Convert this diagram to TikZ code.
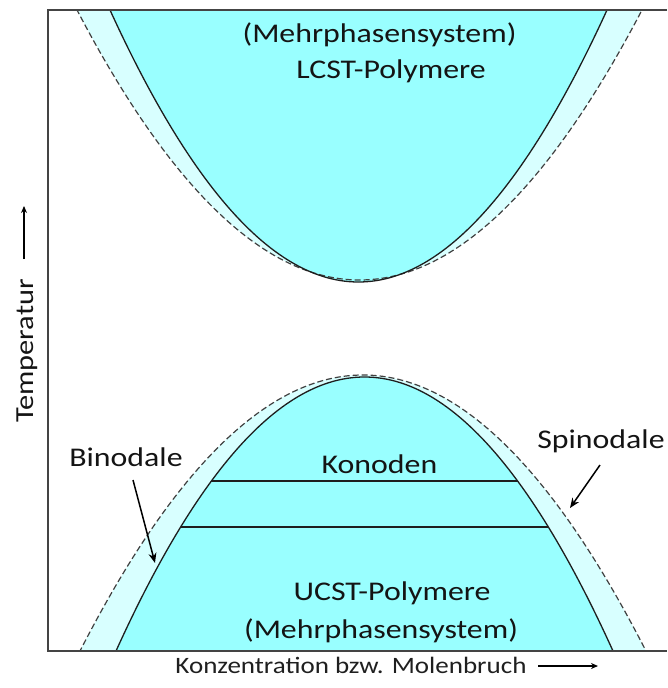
\documentclass[tikz,border=0pt]{standalone}
\usepackage{fontspec}
\setmainfont{Carlito}
\usetikzlibrary{arrows.meta}
\definecolor{cyanfill}{HTML}{99FFFF}
\definecolor{lightfill}{HTML}{D8FFFF}
\definecolor{linecol}{HTML}{1E1E1E}
\definecolor{dashcol}{HTML}{404040}
\definecolor{framecol}{HTML}{444444}
\newcommand{\wide}[2]{\scalebox{#1}[1]{#2}}
\begin{document}
\begin{tikzpicture}[x=1pt,y=-1pt,
  lbl/.style={inner sep=0pt, anchor=base, font=\fontsize{27}{30}\selectfont, text=black!92},
  axl/.style={inner sep=0pt, anchor=base, font=\fontsize{23.5}{26}\selectfont, text=black!88},
  solidc/.style={draw=linecol, line width=1.3pt},
  dashc/.style={draw=dashcol, line width=1.2pt, dash pattern=on 6pt off 3pt},
  tie/.style={draw=linecol, line width=2.2pt},
  arr/.style={draw=black, line width=1.5pt, -{Stealth[length=10pt,width=8pt]}},
  axarr/.style={draw=black, line width=1.4pt, -{Stealth[length=7pt,width=6pt]}}
]
\useasboundingbox (0,0) rectangle (667,688);
\begin{scope}
  \clip (48,10) rectangle (667,651);
  % upper (LCST) region
  \fill[lightfill] plot[domain=-1.06:1.06, samples=121] ({359.5+282.5*\x},{280-270*\x*\x}) -- cycle;
  \fill[cyanfill] plot[domain=-1.06:1.06, samples=121] ({358.5+248.5*\x},{282-272*\x*\x}) -- cycle;
  \draw[dashc] plot[domain=-1.06:1.06, samples=121] ({359.5+282.5*\x},{280-270*\x*\x});
  \draw[solidc] plot[domain=-1.06:1.06, samples=121] ({358.5+248.5*\x},{282-272*\x*\x});
  % lower (UCST) region
  \fill[lightfill] plot[domain=-1.06:1.06, samples=121] ({363+283*\x},{375+276*\x*\x}) -- cycle;
  \fill[cyanfill] plot[domain=-1.06:1.06, samples=121] ({364.5+248.5*\x},{377+274*\x*\x}) -- cycle;
  \draw[dashc] plot[domain=-1.06:1.06, samples=121] ({363+283*\x},{375+276*\x*\x});
  \draw[solidc] plot[domain=-1.06:1.06, samples=121] ({364.5+248.5*\x},{377+274*\x*\x});
\end{scope}
% tie lines (Konoden)
\coordinate (t1l) at (211.4,481);
\coordinate (t1r) at (517.6,481);
\coordinate (t2l) at (180.6,527);
\coordinate (t2r) at (548.4,527);
\draw[tie] (t1l) -- (t1r);
\draw[tie] (t2l) -- (t2r);
% frame
\coordinate (fTR) at (667,10);
\coordinate (fTL) at (48,10);
\coordinate (fBL) at (48,651);
\coordinate (fBR) at (667,651);
\draw[draw=framecol, line width=1.5pt] (fTR) -- (fTL) -- (fBL) -- (fBR);
% texts
\node[lbl] (m1) at (379.5,42) {\wide{1.18}{(Mehrphasensystem)}};
\node[lbl] (lcst) at (391,78) {\wide{1.18}{LCST-Polymere}};
\node[lbl] (kono) at (379.5,473) {\wide{1.18}{Konoden}};
\node[lbl] (ucst) at (392,600) {\wide{1.18}{UCST-Polymere}};
\node[lbl] (m2) at (381,638) {\wide{1.18}{(Mehrphasensystem)}};
\node[lbl] (bino) at (126,466) {\wide{1.18}{Binodale}};
\node[lbl] (spino) at (601,448) {\wide{1.18}{Spinodale}};
\node[axl] (xlab) at (351,673) {\wide{1.15}{Konzentration bzw. Molenbruch}};
\node[lbl, font=\fontsize{26}{28}\selectfont, rotate=90] (ylab) at (33,351) {\wide{1.17}{Temperatur}};
% arrows
\coordinate (binoTail) at (133,480);
\coordinate (binoHead) at (155,563);
\coordinate (spinoTail) at (600,465);
\coordinate (spinoHead) at (570,508);
\draw[arr] (binoTail) -- (binoHead);
\draw[arr] (spinoTail) -- (spinoHead);
\coordinate (xa1) at (538,666);
\coordinate (xa2) at (598,666);
\draw[axarr] (xa1) -- (xa2);
\coordinate (ya1) at (24,259);
\coordinate (ya2) at (24,206);
\draw[axarr] (ya1) -- (ya2);
\end{tikzpicture}
\end{document}
